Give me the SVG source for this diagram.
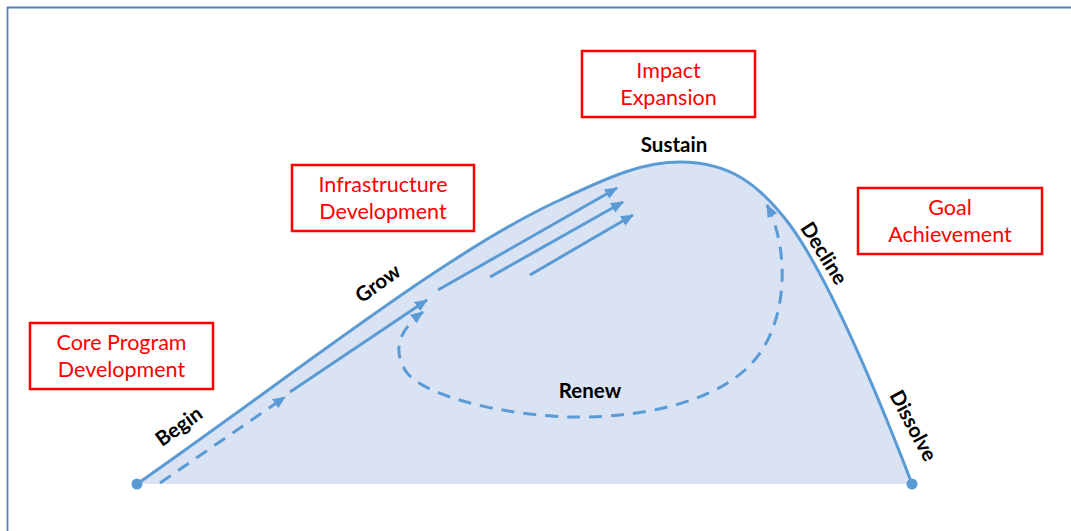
<svg xmlns="http://www.w3.org/2000/svg" width="1071" height="531" viewBox="0 0 1071 531">
<style>
.box rect{fill:#fff;stroke:#ff0000;stroke-width:2.5}
.box text{font-family:Lato,"Liberation Sans",sans-serif;font-size:21.5px;fill:#ff0000;text-anchor:middle}
.lbl{font-family:Lato,"Liberation Sans",sans-serif;font-size:20.5px;font-weight:bold;fill:#000;text-anchor:middle}
.ln{fill:none;stroke:#5b9bd5;stroke-width:3}
.dash{stroke-dasharray:13 9}
</style>
<defs>
<marker id="ah" viewBox="0 0 13 11" refX="12" refY="5.5" markerWidth="13" markerHeight="11" markerUnits="userSpaceOnUse" orient="auto-start-reverse">
<path d="M0,0 L13,5.5 L0,11 z" fill="#5b9bd5"/>
</marker>
</defs>
<rect x="0" y="0" width="1071" height="531" fill="#fff"/>
<path d="M7.5,540 L7.5,7.5 L1080,7.5" fill="none" stroke="#5a80b9" stroke-width="1.8"/>
<g id="area">
<path d="M137,484 C300,370 450,250 560,200 C615,174 645,162 680,162 C730,162 760,185 790,225 C830,280 880,400 912,484 Z" fill="#dae3f3"/>
</g>
<g id="connectors">
<path id="curve" class="ln" d="M137,484 C300,370 450,250 560,200 C615,174 645,162 680,162 C730,162 760,185 790,225 C830,280 880,400 912,484"/>
<path class="ln dash" d="M160,483 L285,397" marker-end="url(#ah)"/>
<path class="ln" d="M290,392 L427,300" marker-end="url(#ah)"/>
<path class="ln" d="M438,290 L617,188" marker-end="url(#ah)"/>
<path class="ln" d="M490,277 L623,202" marker-end="url(#ah)"/>
<path class="ln" d="M530,275 L633,215" marker-end="url(#ah)"/>
<path class="ln dash" d="M767,205 C790,250 790,330 745,370 C700,410 620,418 570,417 C500,415 420,395 405,370 C390,345 405,325 423,312" marker-start="url(#ah)" marker-end="url(#ah)"/>
<circle cx="137" cy="484" r="5.5" fill="#5b9bd5"/>
<circle cx="912" cy="484" r="5.5" fill="#5b9bd5"/>
</g>
<g id="core" class="box"><rect x="30" y="323" width="183" height="66"/><text x="121.5" y="350">Core Program</text><text x="121.5" y="377">Development</text></g>
<g id="infra" class="box"><rect x="292" y="165" width="182" height="66"/><text x="383" y="192">Infrastructure</text><text x="383" y="219">Development</text></g>
<g id="impact" class="box"><rect x="582" y="51" width="173" height="66"/><text x="668.5" y="78">Impact</text><text x="668.5" y="105">Expansion</text></g>
<g id="goal" class="box"><rect x="858" y="188" width="184" height="66"/><text x="950" y="215">Goal</text><text x="950" y="242">Achievement</text></g>
<g id="labels">
<text id="sustain" class="lbl" x="674" y="152">Sustain</text>
<text id="renew" class="lbl" x="590" y="398">Renew</text>
<text id="grow" class="lbl" transform="translate(382,289) rotate(-36)">Grow</text>
<text id="begin" class="lbl" transform="translate(183,432) rotate(-36)">Begin</text>
<text id="decline" class="lbl" transform="translate(818,257) rotate(58)">Decline</text>
<text id="dissolve" class="lbl" transform="translate(907,429) rotate(62)">Dissolve</text>
</g>
</svg>
